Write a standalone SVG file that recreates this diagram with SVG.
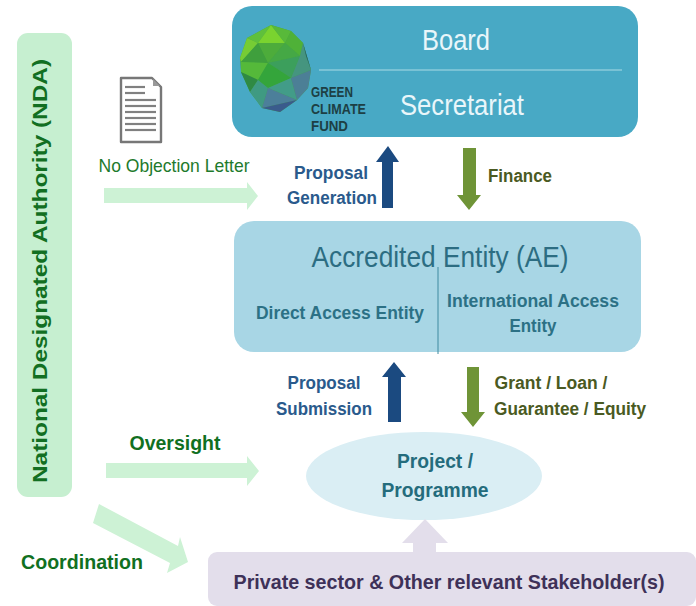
<svg xmlns="http://www.w3.org/2000/svg" width="696" height="606" viewBox="0 0 696 606">
<style>
text{font-family:"Liberation Sans",Arial,sans-serif;text-anchor:middle}
.b{font-weight:700}
.w{fill:#e9f6fa;font-size:29px}
.blue{fill:#2a5a8c;font-size:18px;font-weight:700}
.olive{fill:#4a5a22;font-size:18px;font-weight:700}
.grn{fill:#11701f;font-weight:700;font-size:21px}
.lg{fill:#cdf2d5}
.nv{fill:#1b4a80}
.ol{fill:#6f9437}
.gt{fill:#1d3f44;font-size:14px;font-weight:700;text-anchor:start}
.tl{fill:#246c7c;font-size:21px;font-weight:700}
.ae{fill:#2c7185;font-size:18px;font-weight:700}
</style>
<g id="nda">
<rect x="17" y="33" width="55" height="464" rx="11" fill="#c6efd0"/>
<text class="b" transform="translate(47 271) rotate(-90)" fill="#126f22" font-size="20" textLength="424" lengthAdjust="spacingAndGlyphs">National Designated Authority (NDA)</text>
</g>
<g id="board">
<rect x="232" y="6" width="406" height="131" rx="20" fill="#48a9c5"/>
<line x1="319" y1="70" x2="622" y2="70" stroke="#a9dbe6" stroke-width="1.2"/>
<text class="w" x="456" y="50" textLength="68" lengthAdjust="spacingAndGlyphs">Board</text>
<text class="w" x="462" y="115" textLength="124" lengthAdjust="spacingAndGlyphs">Secretariat</text>
</g>
<g id="gcf-logo">
<polygon points="271,25 291,31 303,43 311,70 308,88 297,100 280,112 262,108 250,92 241,72 240,58 247,38" fill="#45a545"/>
<polygon points="271,25 247,38 258,43" fill="#5fc03c"/>
<polygon points="271,25 258,43 285,43" fill="#7ad32f"/>
<polygon points="271,25 291,31 285,43" fill="#58b93a"/>
<polygon points="258,43 247,38 240,58 241,62" fill="#76cc35"/>
<polygon points="258,43 285,43 268,63" fill="#4dac3b"/>
<polygon points="258,43 241,62 268,63" fill="#3f9f3d"/>
<polygon points="285,43 291,31 303,43 300,56" fill="#4fb138"/>
<polygon points="285,43 300,56 268,63" fill="#45a845"/>
<polygon points="241,62 268,63 258,80 241,72" fill="#55b93a"/>
<polygon points="268,63 300,56 291,78" fill="#3c9f5c"/>
<polygon points="268,63 291,78 268,88 258,80" fill="#34a53b"/>
<polygon points="300,56 303,43 311,70 291,78" fill="#45957f"/>
<polygon points="303,43 311,70 306,56" fill="#235f5f"/>
<polygon points="241,72 258,80 250,92" fill="#2f8a43"/>
<polygon points="258,80 268,88 262,108 250,92" fill="#3f9a82"/>
<polygon points="268,88 291,78 297,100" fill="#429c88"/>
<polygon points="291,78 311,70 308,88 297,100" fill="#4c7f96"/>
<polygon points="268,88 297,100 280,104 262,108" fill="#4c7f9a"/>
<polygon points="262,108 297,100 280,112" fill="#3a5b8c"/>
<text class="gt" x="311" y="97" textLength="42" lengthAdjust="spacingAndGlyphs">GREEN</text>
<text class="gt" x="311" y="114" textLength="55" lengthAdjust="spacingAndGlyphs">CLIMATE</text>
<text class="gt" x="311" y="131" textLength="37" lengthAdjust="spacingAndGlyphs">FUND</text>
</g>
<g id="document">
<path d="M121 78H152L161 87V142H121Z" fill="#fff" stroke="#777" stroke-width="2.4" stroke-linejoin="round"/>
<path d="M153 79L160 86H153Z" fill="#999"/>
<g stroke="#808080" stroke-width="2.2">
<line x1="125" y1="87" x2="145" y2="87"/><line x1="125" y1="93" x2="145" y2="93"/>
<line x1="125" y1="100" x2="156" y2="100"/><line x1="125" y1="106" x2="156" y2="106"/>
<line x1="125" y1="112" x2="156" y2="112"/><line x1="125" y1="118" x2="156" y2="118"/>
<line x1="125" y1="124" x2="156" y2="124"/><line x1="125" y1="130" x2="156" y2="130"/>
</g>
</g>
<g id="ae">
<rect x="234" y="221" width="407" height="131" rx="20" fill="#a8d6e5"/>
<line x1="438" y1="267" x2="438" y2="354" stroke="#3f8aa0" stroke-width="1"/>
<text x="440" y="267" fill="#2c6d82" font-size="29" textLength="257" lengthAdjust="spacingAndGlyphs">Accredited Entity (AE)</text>
<text class="ae" x="340" y="319" textLength="168" lengthAdjust="spacingAndGlyphs">Direct Access Entity</text>
<text class="ae" x="533" y="307" textLength="172" lengthAdjust="spacingAndGlyphs">International Access</text>
<text class="ae" x="533" y="332" textLength="47" lengthAdjust="spacingAndGlyphs">Entity</text>
</g>
<g id="project">
<ellipse cx="424" cy="476" rx="118" ry="44" fill="#daeef4"/>
<text class="tl" x="435" y="468" textLength="76" lengthAdjust="spacingAndGlyphs">Project /</text>
<text class="tl" x="435" y="497" textLength="107" lengthAdjust="spacingAndGlyphs">Programme</text>
</g>
<g id="stakeholders">
<rect x="208" y="552" width="488" height="54" rx="9" fill="#e3deeb"/>
<text x="449" y="589" fill="#3e3158" font-size="21" font-weight="700" textLength="431" lengthAdjust="spacingAndGlyphs">Private sector &amp; Other relevant Stakeholder(s)</text>
</g>
<g id="connectors">
<polygon class="lg" points="104,188 247,188 247,182 258,196 247,210 247,203 104,203"/>
<polygon class="lg" points="106,463 247,463 247,456 259,471 247,486 247,478 106,478"/>
<polygon class="lg" points="99,504 178,546 180,537 188,562 167,573 170,563 93,523"/>
<polygon points="413,553 413,543 402,543 425,519 448,543 436,543 436,553" fill="#e3deeb"/>
<polygon class="nv" points="382,208 382,162 376,162 388,146 399,162 393,162 393,208"/>
<polygon class="ol" points="463,148 476,148 476,195 481,195 469,210 457,195 463,195"/>
<polygon class="nv" points="388,422 388,377 382,377 394,362 406,377 401,377 401,422"/>
<polygon class="ol" points="467,367 479,367 479,412 485,412 473,427 461,412 467,412"/>
</g>
<g id="labels">
<text x="174" y="172" fill="#1e7a2c" font-size="19" textLength="151" lengthAdjust="spacingAndGlyphs">No Objection Letter</text>
<text class="grn" x="175" y="450" textLength="91" lengthAdjust="spacingAndGlyphs">Oversight</text>
<text class="grn" x="82" y="569" textLength="122" lengthAdjust="spacingAndGlyphs">Coordination</text>
<text class="blue" x="331" y="179" textLength="74" lengthAdjust="spacingAndGlyphs">Proposal</text>
<text class="blue" x="332" y="204" textLength="90" lengthAdjust="spacingAndGlyphs">Generation</text>
<text class="olive" x="520" y="182" textLength="64" lengthAdjust="spacingAndGlyphs">Finance</text>
<text class="blue" x="324" y="389" textLength="73" lengthAdjust="spacingAndGlyphs">Proposal</text>
<text class="blue" x="324" y="415" textLength="96" lengthAdjust="spacingAndGlyphs">Submission</text>
<text class="olive" x="551" y="389" textLength="113" lengthAdjust="spacingAndGlyphs">Grant / Loan /</text>
<text class="olive" x="570" y="415" textLength="152" lengthAdjust="spacingAndGlyphs">Guarantee / Equity</text>
</g>
</svg>
